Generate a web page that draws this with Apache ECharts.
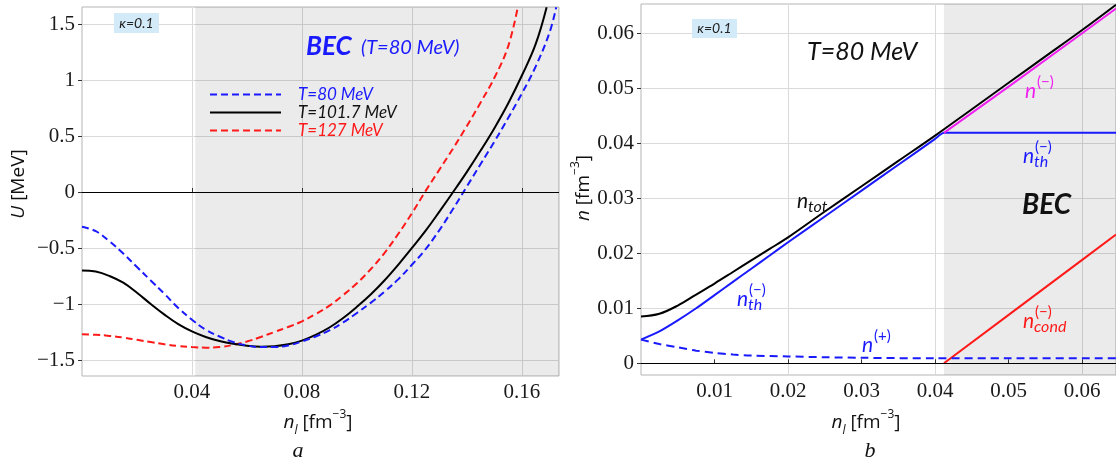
<!DOCTYPE html>
<html>
<head>
<meta charset="utf-8">
<script src="https://cdn.jsdelivr.net/npm/echarts@6/dist/echarts.min.js"></script>
<style>
  html, body { margin: 0; padding: 0; background: #fff; }
  #chart { width: 1116px; height: 464px; }
</style>
</head>
<body>
<div id="chart"></div>
<script>
// panel a: U(n_l) in MeV for three temperatures
const curveT80 = [[0,-0.31],[0.005,-0.35],[0.01,-0.44],[0.015,-0.55],[0.02,-0.67],[0.025,-0.79],[0.03,-0.91],[0.035,-1.035],[0.04,-1.14],[0.045,-1.23],[0.05,-1.29],[0.055,-1.34],[0.06,-1.37],[0.065,-1.385],[0.07,-1.385],[0.075,-1.37],[0.08,-1.335],[0.085,-1.29],[0.09,-1.235],[0.095,-1.165],[0.1,-1.08],[0.105,-0.99],[0.11,-0.89],[0.115,-0.78],[0.12,-0.65],[0.125,-0.51],[0.13,-0.34],[0.135,-0.15],[0.14,0.05],[0.145,0.25],[0.15,0.45],[0.155,0.66],[0.16,0.88],[0.165,1.12],[0.17,1.42],[0.1725,1.65]];
const curveT101 = [[0,-0.70],[0.005,-0.71],[0.01,-0.75],[0.015,-0.81],[0.02,-0.90],[0.025,-1.0],[0.03,-1.095],[0.035,-1.18],[0.04,-1.245],[0.045,-1.295],[0.05,-1.33],[0.055,-1.355],[0.06,-1.372],[0.065,-1.381],[0.07,-1.377],[0.075,-1.36],[0.08,-1.327],[0.085,-1.275],[0.09,-1.21],[0.095,-1.125],[0.1,-1.025],[0.105,-0.915],[0.11,-0.79],[0.115,-0.65],[0.12,-0.5],[0.125,-0.345],[0.13,-0.175],[0.135,0],[0.14,0.18],[0.145,0.37],[0.15,0.57],[0.155,0.79],[0.16,1.04],[0.165,1.32],[0.169,1.65]];
const curveT127 = [[0,-1.27],[0.005,-1.275],[0.01,-1.285],[0.015,-1.30],[0.02,-1.32],[0.025,-1.34],[0.03,-1.36],[0.035,-1.375],[0.04,-1.385],[0.045,-1.39],[0.05,-1.385],[0.055,-1.365],[0.06,-1.335],[0.065,-1.295],[0.07,-1.25],[0.075,-1.205],[0.08,-1.155],[0.085,-1.09],[0.09,-1.015],[0.095,-0.92],[0.1,-0.815],[0.105,-0.69],[0.11,-0.545],[0.115,-0.375],[0.12,-0.19],[0.125,0.01],[0.13,0.2],[0.135,0.39],[0.14,0.59],[0.145,0.8],[0.15,1.02],[0.155,1.3],[0.1585,1.65]];

// panel b: densities in fm^-3 at T = 80 MeV
const nTot = [[0,0.0085],[0.0025,0.0090],[0.005,0.0105],[0.0075,0.0125],[0.01,0.0145],[0.0125,0.0166],[0.015,0.0187],[0.0175,0.0208],[0.02,0.0229],[0.025,0.0276],[0.03,0.0322],[0.035,0.0368],[0.04,0.0414],[0.045,0.0462],[0.05,0.0510],[0.055,0.0558],[0.06,0.0606],[0.0646,0.0652]];
const nThMinus = [[0,0.0043],[0.0025,0.0058],[0.005,0.0078],[0.0075,0.0100],[0.01,0.0124],[0.0125,0.0148],[0.015,0.0172],[0.0175,0.0196],[0.02,0.0220],[0.025,0.0267],[0.03,0.0314],[0.035,0.0361],[0.04,0.0408],[0.0412,0.0419],[0.05,0.0419],[0.0646,0.0419]];
const nPlus = [[0,0.0043],[0.0025,0.0035],[0.005,0.0029],[0.0075,0.0023],[0.01,0.0019],[0.0125,0.0016],[0.015,0.0014],[0.02,0.00125],[0.025,0.0011],[0.03,0.0010],[0.04,0.0009],[0.05,0.0009],[0.0646,0.0009]];
const nMinus = [[0.0412,0.0419],[0.05,0.0503],[0.06,0.0600],[0.0646,0.0645]];
const nCond = [[0.0412,0],[0.05,0.0088],[0.06,0.0188],[0.0646,0.0234]];

// tick values
const ticksUA = [-1.5, -1, -0.5, 0, 0.5, 1, 1.5];
const ticksXA = [0.04, 0.08, 0.12, 0.16];
const ticksNB = [0, 0.01, 0.02, 0.03, 0.04, 0.05, 0.06];
const ticksXB = [0.01, 0.02, 0.03, 0.04, 0.05, 0.06];
const gridXB = [0.02, 0.04, 0.06];

const becStart = 0.0412;
const xMaxA = 0.1735, xMaxB = 0.0646;

const SERIF = 'Liberation Serif';
const SANS = 'Lato';
const BLUE = '#1a1aff', RED = '#ff1a1a', MAG = '#f020f0';

const chart = echarts.init(document.getElementById('chart'));

// label only the "nice" values, ECharts may also put ticks at the extent ends
const stepLabel = (step, showZero, digits) => (v) => {
    const k = Math.round(v / step);
    if (Math.abs(v - k * step) > step * 1e-4) return '';
    if (k === 0) return showZero ? '0' : '';
    const s = digits == null ? String(+(k * step).toFixed(4)) : (k * step).toFixed(digits);
    return s.replace('-', '\u2212');
};

const tickLabel = { fontFamily: SERIF, fontSize: 21, color: '#1a1a1a' };
const gridLine = { lineStyle: { color: '#dadada', width: 1 } };

function txt(x, y, text, size, color, extra) {
    return {
        type: 'text', x: x, y: y, silent: true, z: 100,
        style: Object.assign({
            text: text, fontSize: size, fontFamily: SANS, fontStyle: 'italic',
            fill: color, align: 'left', verticalAlign: 'middle'
        }, extra || {})
    };
}

// n with subscript / superscript stacked
function sym(x, y, color, sub, sup) {
    const out = [txt(x, y, 'n', 21, color)];
    if (sub) out.push(txt(x + 11, y + 6, sub, 16, color));
    if (sup) out.push(txt(x + 12, y - 9, sup, 15, color, { fontStyle: 'normal' }));
    return out;
}

const axisTitleRich = {
    i: { fontStyle: 'italic', fontFamily: 'Open Sans', fontSize: 19, lineHeight: 28 },
    sub: { fontStyle: 'italic', fontFamily: 'Open Sans', fontSize: 12, verticalAlign: 'bottom' },
    sup: { fontFamily: 'Open Sans', fontSize: 12, verticalAlign: 'top' }
};
function axisTitle(x, y, text, rotate) {
    return {
        type: 'text', x: x, y: y, rotation: rotate ? Math.PI / 2 : 0, silent: true,
        style: {
            text: text, rich: axisTitleRich, fontFamily: 'Open Sans', fontSize: 19, lineHeight: 28,
            fill: '#111', align: 'center', verticalAlign: 'middle'
        }
    };
}

const zeroLine = {
    silent: true, symbol: ['none', 'none'], label: { show: false },
    lineStyle: { color: '#000', width: 1, type: 'solid' },
    data: [{ yAxis: 0 }]
};

const option = {
    backgroundColor: '#fff',
    animation: false,
    grid: [
        { left: 82, top: 7, width: 477, height: 369, show: true, borderColor: '#b5b5b5', borderWidth: 1 },
        { left: 641, top: 4, width: 476, height: 371, show: true, borderColor: '#b5b5b5', borderWidth: 1 }
    ],
    xAxis: [
        {
            gridIndex: 0, type: 'value', min: 0, max: xMaxA, interval: 0.04,
            axisLine: { show: false },
            axisTick: { inside: true, length: 4, lineStyle: { color: '#333' }, customValues: ticksXA },
            axisLabel: Object.assign({ margin: 6, customValues: ticksXA, formatter: stepLabel(0.04, false, 2) }, tickLabel),
            splitLine: gridLine
        },
        {
            gridIndex: 1, type: 'value', min: 0, max: xMaxB, interval: 0.01,
            axisLine: { show: false },
            axisTick: { inside: true, length: 4, lineStyle: { color: '#333' }, customValues: ticksXB },
            axisLabel: Object.assign({ margin: 6, customValues: ticksXB, formatter: stepLabel(0.01, false, 2) }, tickLabel),
            splitLine: { show: false }
        },
        {
            // vertical grid lines of panel b sit every 0.02 only
            gridIndex: 1, type: 'value', min: 0, max: xMaxB, interval: 0.02,
            axisLine: { show: false },
            axisTick: { show: false, customValues: gridXB },
            axisLabel: { show: false, customValues: gridXB },
            splitLine: gridLine
        }
    ],
    yAxis: [
        {
            gridIndex: 0, type: 'value', min: -1.643, max: 1.652, splitNumber: 7,
            axisLine: { show: false },
            axisTick: { length: 4, lineStyle: { color: '#333' }, customValues: ticksUA },
            axisLabel: Object.assign({ margin: 7, customValues: ticksUA, formatter: stepLabel(0.5, true) }, tickLabel),
            splitLine: gridLine
        },
        {
            gridIndex: 1, type: 'value', min: -0.00213, max: 0.06533, splitNumber: 7,
            axisLine: { show: false },
            axisTick: { length: 4, lineStyle: { color: '#333' }, customValues: ticksNB },
            axisLabel: Object.assign({ margin: 7, customValues: ticksNB, formatter: stepLabel(0.01, true, 2) }, tickLabel),
            splitLine: gridLine
        }
    ],
    legend: {
        orient: 'vertical', left: 204, top: 81, selectedMode: false,
        itemWidth: 71, itemHeight: 12, itemGap: 1,
        itemStyle: { opacity: 0 },
        textStyle: { fontFamily: SANS, fontStyle: 'italic', fontSize: 17, lineHeight: 17, padding: [0, 0, 0, 12] },
        data: [
            { name: 'T=80 MeV', textStyle: { color: BLUE } },
            { name: 'T=101.7 MeV', textStyle: { color: '#111' } },
            { name: 'T=127 MeV', textStyle: { color: RED } }
        ]
    },
    series: [
        {
            name: 'T=127 MeV', type: 'line', xAxisIndex: 0, yAxisIndex: 0, data: curveT127,
            symbol: 'none', smooth: 0.4, z: 2,
            lineStyle: { color: RED, width: 2, type: [7, 4] }, itemStyle: { color: RED, opacity: 0 },
            markArea: {
                silent: true, itemStyle: { color: 'rgba(0,0,0,0.08)', opacity: 1 },
                data: [[{ xAxis: becStart }, { xAxis: xMaxA }]]
            }
        },
        {
            name: 'T=101.7 MeV', type: 'line', xAxisIndex: 0, yAxisIndex: 0, data: curveT101,
            symbol: 'none', smooth: 0.4, z: 3,
            lineStyle: { color: '#000', width: 2 }, itemStyle: { color: '#000', opacity: 0 },
            markLine: zeroLine
        },
        {
            name: 'T=80 MeV', type: 'line', xAxisIndex: 0, yAxisIndex: 0, data: curveT80,
            symbol: 'none', smooth: 0.4, z: 4,
            lineStyle: { color: BLUE, width: 2, type: [7, 4] }, itemStyle: { color: BLUE, opacity: 0 }
        },
        {
            name: 'n_cond', type: 'line', xAxisIndex: 1, yAxisIndex: 1, data: nCond,
            symbol: 'none', z: 2,
            lineStyle: { color: RED, width: 2 },
            markArea: {
                silent: true, itemStyle: { color: 'rgba(0,0,0,0.08)' },
                data: [[{ xAxis: becStart }, { xAxis: xMaxB }]]
            },
            markLine: zeroLine
        },
        {
            name: 'n_plus', type: 'line', xAxisIndex: 1, yAxisIndex: 1, data: nPlus,
            symbol: 'none', smooth: 0.3, z: 3,
            lineStyle: { color: BLUE, width: 2, type: [8, 5] }
        },
        {
            name: 'n_th', type: 'line', xAxisIndex: 1, yAxisIndex: 1, data: nThMinus,
            symbol: 'none', smooth: 0.2, z: 3,
            lineStyle: { color: BLUE, width: 2 }
        },
        {
            name: 'n_minus', type: 'line', xAxisIndex: 1, yAxisIndex: 1, data: nMinus,
            symbol: 'none', z: 3,
            lineStyle: { color: MAG, width: 2 }
        },
        {
            name: 'n_tot', type: 'line', xAxisIndex: 1, yAxisIndex: 1, data: nTot,
            symbol: 'none', smooth: 0.35, z: 4,
            lineStyle: { color: '#000', width: 2 }
        }
    ],
    graphic: [
        // panel a
        { type: 'rect', shape: { x: 114, y: 13, width: 45, height: 20 }, style: { fill: '#d3eaf8' }, silent: true, z: 99 },
        txt(136.5, 23, '\u03ba=0.1', 14, '#222', { align: 'center' }),
        txt(306, 47, 'BEC', 26, BLUE, { fontWeight: 'bold' }),
        txt(361, 48, '(T=80 MeV)', 20, BLUE),
        // panel b
        { type: 'rect', shape: { x: 692, y: 19, width: 45, height: 19 }, style: { fill: '#d3eaf8' }, silent: true, z: 99 },
        txt(714.5, 28.5, '\u03ba=0.1', 14, '#222', { align: 'center' }),
        txt(807, 52, 'T=80 MeV', 25, '#111'),
        txt(1022, 205, 'BEC', 28, '#111', { fontWeight: 'bold' }),
        ...sym(797, 201, '#111', 'tot', null),
        ...sym(1025, 91, MAG, null, '(\u2212)'),
        ...sym(1023, 156, BLUE, 'th', '(\u2212)'),
        ...sym(737, 299, BLUE, 'th', '(\u2212)'),
        ...sym(862, 345, BLUE, null, '(+)'),
        ...sym(1023, 321, RED, 'cond', '(\u2212)'),
        // axis titles and panel letters
        axisTitle(18.5, 184, '{i|U} [MeV]', true),
        axisTitle(584, 188, '{i|n} [fm{sup|\u22123}]', true),
        axisTitle(318, 423, '{i|n}{sub|l} [fm{sup|\u22123}]', false),
        axisTitle(866, 423, '{i|n}{sub|l} [fm{sup|\u22123}]', false),
        txt(298, 451, 'a', 22, '#111', { fontFamily: SERIF, align: 'center' }),
        txt(870, 451, 'b', 22, '#111', { fontFamily: SERIF, align: 'center' })
    ]
};

chart.setOption(option);
</script>
</body>
</html>
